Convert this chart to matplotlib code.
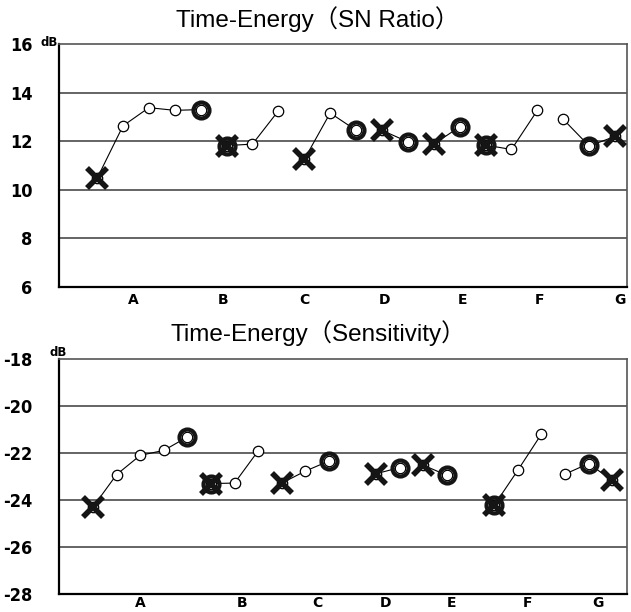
import matplotlib
matplotlib.use("Agg")
import matplotlib.pyplot as plt

# factor names and level values (dB)
factors = ["A", "B", "C", "D", "E", "F", "G"]

sn_A = [10.47, 12.63, 13.38, 13.27, 13.30]
sn_B = [11.82, 11.88, 13.25]
sn_C = [11.25, 13.16, 12.45]
sn_D = [12.45, 11.97]
sn_E = [11.88, 12.59]
sn_F = [11.84, 11.66, 13.27]
sn_G = [12.90, 11.80, 12.20]

sens_A = [-24.30, -22.92, -22.10, -21.89, -21.32]
sens_B = [-23.30, -23.28, -21.91]
sens_C = [-23.28, -22.77, -22.34]
sens_D = [-22.88, -22.62]
sens_E = [-22.52, -22.95]
sens_F = [-24.23, -22.74, -21.20]
sens_G = [-22.90, -22.45, -23.16]

# level marked as current condition (x) and optimum (O), 0-based
current_level = [0, 0, 0, 0, 0, 0, 2]
optimum_level = [4, 0, 2, 1, 1, 0, 1]

sn_data = [sn_A, sn_B, sn_C, sn_D, sn_E, sn_F, sn_G]
sens_data = [sens_A, sens_B, sens_C, sens_D, sens_E, sens_F, sens_G]

# slot where each factor starts on the x axis, and label slots
sn_start = [0, 5, 8, 11, 13, 15, 18]
sn_label_pos = [1.4, 4.85, 8.0, 11.1, 14.1, 17.1, 20.2]
sens_start = [0, 5, 8, 12, 14, 17, 20]
sens_label_pos = [2.0, 6.3, 9.5, 12.4, 15.2, 18.4, 21.4]

W, H = 631, 612
fig = plt.figure(figsize=(W / 100, H / 100), dpi=100)

tick_font = dict(family="DejaVu Sans", stretch="condensed", weight="bold", size=13)
title_font = ["Liberation Sans", "Noto Sans CJK JP"]


def draw_panel(ax, data, starts, label_pos, ylim, xlim, title, title_y, xpad):
    for i, vals in enumerate(data):
        xs = [starts[i] + k for k in range(len(vals))]
        ax.plot(xs, vals, color="black", lw=0.8, marker="o", ms=7.5,
                mfc="white", mec="black", mew=0.9, zorder=3)
        o = optimum_level[i]
        ax.plot(xs[o], vals[o], marker="o", ms=11.5, mfc="none", mec="#151515",
                mew=3.0, ls="none", zorder=4)
        c = current_level[i]
        ax.plot(xs[c], vals[c], marker="x", ms=14, mec="#151515",
                mew=4.0, ls="none", zorder=5)

    ax.set_xlim(*xlim)
    ax.set_ylim(*ylim)
    ticks = list(range(ylim[0], ylim[1] + 1, 2))
    ax.set_yticks(ticks)
    ax.set_yticklabels([str(v) for v in ticks], fontdict=tick_font)
    ax.set_xticks(label_pos)
    ax.set_xticklabels(factors, fontdict=dict(family="DejaVu Sans", weight="bold", size=10))
    ax.tick_params(axis="y", length=0, pad=19)
    ax.tick_params(axis="x", length=0, pad=xpad)
    for v in range(ylim[0] + 2, ylim[1], 2):
        ax.axhline(v, color="#4a4a4a", lw=1.2, zorder=1)
    for side in ["left", "bottom"]:
        ax.spines[side].set_linewidth(1.6)
        ax.spines[side].set_color("black")
    for side in ["top", "right"]:
        ax.spines[side].set_linewidth(1.2)
        ax.spines[side].set_color("#555555")
    fig.text(318 / W, 1 - title_y / H, title, ha="center", va="center",
             fontsize=17.5, family=title_font)


ax1 = fig.add_axes([59 / W, 1 - 287 / H, 568 / W, 243 / H])
draw_panel(ax1, sn_data, sn_start, sn_label_pos, (6, 16), (-1.47, 20.46),
           "Time-Energy\uff08SN Ratio\uff09", 19, 4)
fig.text(49 / W, 1 - 43 / H, "dB", ha="center", va="center", fontsize=8.5, weight="bold")

ax2 = fig.add_axes([59 / W, 1 - 594 / H, 568 / W, 235 / H])
draw_panel(ax2, sens_data, sens_start, sens_label_pos, (-28, -18), (-1.44, 22.63),
           "Time-Energy\uff08Sensitivity\uff09", 333, 1.5)
fig.text(58 / W, 1 - 352 / H, "dB", ha="center", va="center", fontsize=8.5, weight="bold")

fig.savefig("out.png", dpi=100)
